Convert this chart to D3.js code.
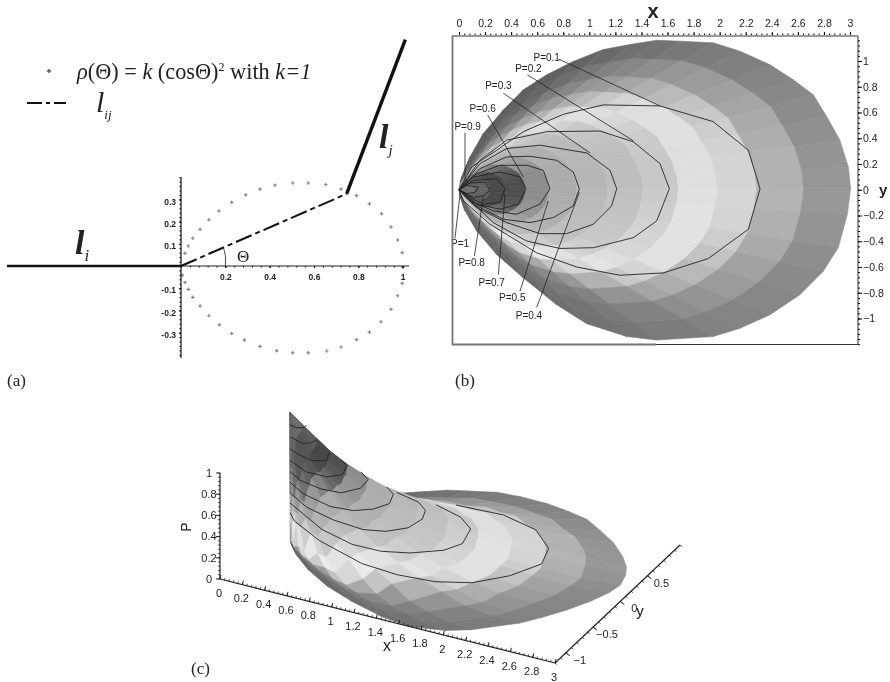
<!DOCTYPE html>
<html>
<head>
<meta charset="utf-8">
<script src="https://cdn.jsdelivr.net/npm/d3@7"></script>
<style>
  body { margin: 0; background: #fff; }
  svg { display: block; filter: blur(0.5px); }
  text { font-family: "Liberation Sans", sans-serif; fill: #222; }
  .serif { font-family: "Liberation Serif", serif; }
  .mesh { filter: blur(0.4px); }
</style>
</head>
<body>
<script>
// panel (a): crosses of the polar curve
const polarX = [.018,.033,.053,.086,.126,.171,.229,.292,.356,.424,.504,.574,.653,.722,.792,.85,.905,.947,.977,.998,1.0,
                .006,.018,.033,.053,.086,.126,.173,.229,.286,.356,.432,.504,.574,.657,.722,.792,.85,.902,.947,.977,.998];
const polarY = [.057,.09,.125,.165,.208,.248,.287,.32,.346,.364,.374,.374,.367,.347,.317,.28,.235,.176,.117,.06,-.006,
                -.041,-.074,-.105,-.141,-.18,-.224,-.265,-.304,-.334,-.362,-.382,-.391,-.391,-.383,-.365,-.332,-.298,-.251,-.195,-.134,-.078];
const aXTicks = [.2,.4,.6,.8,1];
const aXLabels = ['0.2','0.4','0.6','0.8','1'];
const aYTicks = [.3,.2,.1,-.1,-.2,-.3];
const aYLabels = ['0.3','0.2','0.1','-0.1','-0.2','-0.3'];

// panels (b) and (c): the surface outline, one point per mesh ray
const outlineX = [.02,.084,.187,.34,.494,.673,.877,1.107,1.312,1.517,1.696,1.951,2.156,2.386,2.565,2.719,2.821,2.923,2.987,3.005,
                  2.98,2.91,2.795,2.616,2.386,2.156,1.951,1.517,1.286,.98,.749,.494,.289,.136,.046,.015];
const outlineY = [.1,.255,.4375,.62,.776,.893,.997,1.089,1.128,1.161,1.154,1.141,1.076,.971,.854,.737,.568,.385,.177,.008,
                  -.19,-.45,-.633,-.815,-.971,-1.076,-1.14,-1.167,-1.14,-1.04,-.893,-.685,-.503,-.32,-.164,-.07];
const ringFractions = [0,.04,.08,.12,.17,.23,.3,.38,.47,.56,.66,.76,.88,1];

// grey level of each facet: one row per gap between rays, one column per ring
const facetGrey = [
  [130,165,170,150,125,110,100,95,92,92,92,92,92],
  [125,160,172,155,130,112,103,98,94,92,92,92,92],
  [115,150,172,178,150,128,112,103,97,94,92,92,92],
  [105,140,170,190,178,155,135,120,110,103,98,95,92],
  [102,125,155,178,195,195,165,142,125,112,104,98,94],
  [100,115,145,170,190,208,190,160,140,122,110,102,96],
  [100,100,125,160,178,198,218,195,165,142,125,110,100],
  [100,92,112,150,176,192,215,212,180,155,135,120,106],
  [105,88,98,140,172,185,202,222,205,175,150,130,112],
  [105,85,92,130,170,182,198,222,215,185,155,135,115],
  [108,85,82,118,165,178,192,210,225,200,165,142,120],
  [110,86,76,108,160,176,188,202,222,212,175,150,124],
  [110,88,74,100,155,175,186,198,215,222,185,155,128],
  [110,90,72,92,150,175,185,195,208,224,195,160,132],
  [110,92,72,86,146,174,184,192,204,224,200,165,136],
  [110,94,72,82,142,172,183,190,202,224,206,170,140],
  [110,95,72,80,140,172,182,190,200,222,210,174,144],
  [110,95,72,78,140,172,182,190,200,222,212,178,148],
  [110,95,72,78,140,172,182,190,200,222,212,178,150],
  [110,95,72,78,140,172,184,192,202,224,214,180,152],
  [110,95,72,80,142,173,186,194,206,226,212,176,148],
  [110,94,72,84,146,174,188,196,210,226,205,170,142],
  [110,92,72,88,148,175,188,198,212,226,195,162,138],
  [110,90,72,95,150,175,190,200,215,225,185,155,135],
  [110,88,75,105,158,178,192,206,222,212,174,148,132],
  [110,86,78,115,165,180,194,212,228,200,165,142,130],
  [108,85,88,132,172,186,204,226,214,178,148,130,124],
  [105,85,98,150,176,192,214,234,196,152,130,122,118],
  [102,88,112,160,180,200,228,215,168,136,122,116,114],
  [100,90,125,168,184,212,235,195,145,124,116,112,110],
  [100,110,150,178,205,232,205,155,128,116,110,108,106],
  [102,130,165,192,225,215,170,130,116,108,104,102,102],
  [110,150,190,230,205,155,125,110,104,102,100,100,100],
  [125,175,205,185,135,112,104,100,100,100,100,100,100],
  [135,185,195,150,118,106,100,100,100,100,100,100,100]
];

// surface height P at each ring, for groups of rays
const ringHeights = [
  [1,.9,.8,.7,.6,.5,.4,.32,.25,.19,.14,.1,.05,0],
  [1,.89,.78,.68,.58,.48,.38,.3,.22,.17,.125,.08,.03,0],
  [1,.88,.76,.65,.54,.44,.35,.27,.2,.15,.1,.06,.02,0],
  [1,.86,.72,.62,.51,.4,.3,.22,.16,.11,.07,.03,.01,0],
  [1,.84,.67,.57,.45,.33,.24,.16,.1,.05,.02,.01,0,0],
  [1,.8,.6,.48,.35,.24,.15,.09,.03,.01,0,0,0,0],
  [1,.68,.48,.33,.2,.11,.03,.01,0,0,0,0,0,0],
  [1,.55,.3,.17,.07,.01,0,0,0,0,0,0,0,0],
  [1,.3,.12,.04,0,0,0,0,0,0,0,0,0,0]
];
const rayHeightGroup = [8,8,8,7,7,6,6,5,5,4,4,3,3,2,2,1,1,0,0,0,0,1,1,2,2,3,3,4,5,6,6,7,7,8,8,8];

// contour lines of P, each closed back to the origin
const contourLevels = [.1,.2,.3,.4,.5,.6,.7,.8,.9];
const contourPoints = [
  [[.097,.177],[.289,.307],[.494,.451],[.8,.586],[1.107,.659],[1.542,.651],[1.951,.529],[2.22,.307],[2.31,.008],[2.22,-.307],[1.913,-.534],[1.568,-.646],[1.235,-.664],[.903,-.6],[.596,-.49],[.238,-.268],[.033,-.086]],
  [[.161,.229],[.366,.385],[.673,.451],[1.082,.456],[1.338,.372],[1.542,.203],[1.614,.008],[1.517,-.242],[1.338,-.372],[1.031,-.45],[.775,-.456],[.519,-.398],[.263,-.255]],
  [[.161,.203],[.366,.32],[.621,.346],[.98,.286],[1.159,.151],[1.21,.008],[1.171,-.125],[1.031,-.268],[.826,-.341],[.621,-.341],[.366,-.255],[.136,-.138]],
  [[.161,.164],[.366,.255],[.545,.26],[.749,.229],[.877,.138],[.923,.008],[.877,-.125],[.724,-.216],[.545,-.255],[.34,-.229],[.11,-.112]],
  [[.136,.125],[.315,.19],[.519,.19],[.647,.151],[.698,.008],[.621,-.112],[.442,-.19],[.263,-.164],[.084,-.086]],
  [[.11,.099],[.315,.138],[.468,.099],[.514,.008],[.455,-.112],[.315,-.151],[.136,-.112]],
  [[.11,.073],[.289,.086],[.353,.008],[.315,-.099],[.187,-.112],[.084,-.06]],
  [[.084,.052],[.2,.06],[.238,-.005],[.187,-.047],[.11,-.06]],
  [[.06,.034],[.148,.02],[.123,-.02],[.06,-.03]]
];
// in panel (c) the far part of each contour is hidden, it shows from this point on
const contourFrontStart = [5,4,3,4,3,2,2,2,1];

// labels of panel (b): text, label centre, leader start, leader end
const pLabelText = ['P=0.1','P=0.2','P=0.3','P=0.6','P=0.9','P=1','P=0.8','P=0.7','P=0.5','P=0.4'];
const pLabelAt = [[.673,1.031],[.532,.94],[.302,.807],[.182,.633],[.066,.495],[.008,-.42],[.097,-.568],[.251,-.724],[.409,-.836],[.537,-.977]];
const pLeaderFrom = [[.762,1.016],[.524,.893],[.34,.75],[.22,.581],[.046,.443],[-.031,-.378],[.118,-.516],[.302,-.659],[.468,-.789],[.596,-.914]];
const pLeaderTo = [[1.542,.651],[1.338,.38],[1.005,.286],[.494,.099],[.046,.073],[.008,-.034],[.187,-.06],[.353,-.034],[.685,-.086],[.923,-.02]];

const xTicks = [0,.2,.4,.6,.8,1,1.2,1.4,1.6,1.8,2,2.2,2.4,2.6,2.8,3];
const xLabels = ['0','0.2','0.4','0.6','0.8','1','1.2','1.4','1.6','1.8','2','2.2','2.4','2.6','2.8','3'];
const yTicks = [1,.8,.6,.4,.2,0,-.2,-.4,-.6,-.8,-1];
const yLabels = ['1','0.8','0.6','0.4','0.2','0','\u22120.2','\u22120.4','\u22120.6','\u22120.8','\u22121'];
const pTicks = [0,.2,.4,.6,.8,1];
const pLabels = ['0','0.2','0.4','0.6','0.8','1'];
const cYTicks = [-1,-.5,0,.5];
const cYLabels = ['\u22121','\u22120.5','0','0.5'];

const svg = d3.select('body').append('svg').attr('width', 890).attr('height', 682);
svg.append('rect').attr('width', 890).attr('height', 682).attr('fill', '#fff');

function minorTicks(from, to, step) {
    let n = Math.round((to - from) / step);
    return d3.range(n + 1).map(i => from + i * step);
}

function greyOf(v) {
    return d3.rgb(v, v, v).formatHex();
}

// one record per surface facet, four corners as [x, y, P]
function buildFacets() {
    let facets = [];
    facetGrey.forEach((row, i) => {
        row.forEach((grey, j) => {
            let corners = [[i, j], [i + 1, j], [i + 1, j + 1], [i, j + 1]].map(c => {
                let f = ringFractions[c[1]];
                let p = ringHeights[rayHeightGroup[c[0]]][c[1]];
                return [outlineX[c[0]] * f, outlineY[c[0]] * f, p];
            });
            facets.push({grey: grey, corners: corners});
        });
    });
    return facets;
}
const facets = buildFacets();

function drawPanelA() {
    let x = d3.scaleLinear().domain([0, 1]).range([181, 402.7]);
    let y = d3.scaleLinear().domain([-.4, .4]).range([354.8, 177.2]);
    let g = svg.append('g');

    // crosses
    g.selectAll('path.cross').data(polarX).join('path')
        .attr('class', 'cross')
        .attr('d', d3.symbol(d3.symbolCross, 7))
        .attr('transform', (d, i) => `translate(${x(d)},${y(polarY[i])})`)
        .attr('fill', '#888');

    // axes
    let xAxis = d3.axisBottom(x).tickValues(aXTicks).tickSize(2).tickFormat((d, i) => aXLabels[i]);
    let ax = g.append('g').attr('transform', `translate(0,${y(0)})`).call(xAxis);
    ax.select('.domain').attr('d', `M181,0H409`).attr('stroke', '#222').attr('stroke-width', 1.2);
    ax.selectAll('text').attr('font-size', 8.5).attr('font-weight', 'bold').attr('fill', '#444').attr('dy', 9);
    let xMinor = d3.axisBottom(x).tickValues(minorTicks(0, 1, .04)).tickSize(1.5).tickFormat('');
    g.append('g').attr('transform', `translate(0,${y(0)})`).call(xMinor).select('.domain').remove();

    let yAxis = d3.axisLeft(y).tickValues(aYTicks).tickSize(2).tickFormat((d, i) => aYLabels[i]);
    let ay = g.append('g').attr('transform', `translate(${x(0)},0)`).call(yAxis);
    ay.select('.domain').attr('d', 'M0,177.2V358').attr('stroke', '#222').attr('stroke-width', 1.3);
    ay.selectAll('text').attr('font-size', 8.5).attr('font-weight', 'bold').attr('fill', '#444').attr('dy', '.55em');
    let yMinor = d3.axisLeft(y).tickValues(minorTicks(-.4, .4, .02)).tickSize(1.5).tickFormat('');
    g.append('g').attr('transform', `translate(${x(0)},0)`).call(yMinor).select('.domain').remove();

    // the segments
    g.append('line').attr('x1', 7).attr('x2', x(0)).attr('y1', y(0)).attr('y2', y(0))
        .attr('stroke', '#111').attr('stroke-width', 2.6);
    g.append('line').attr('x1', x(.747)).attr('y1', y(.325)).attr('x2', x(1.012)).attr('y2', y(1.02))
        .attr('stroke', '#111').attr('stroke-width', 3.4);
    g.append('line').attr('x1', x(0)).attr('y1', y(0)).attr('x2', x(.747)).attr('y2', y(.325))
        .attr('stroke', '#111').attr('stroke-width', 2).attr('stroke-dasharray', '17,4,5,4');

    // angle arc
    let arc = d3.path();
    arc.moveTo(x(.2), y(0));
    arc.quadraticCurveTo(x(.205), y(.05), x(.19), y(.085));
    g.append('path').attr('d', arc.toString()).attr('fill', 'none').attr('stroke', '#333').attr('stroke-width', .9);
    g.append('text').attr('class', 'serif').attr('x', x(.28)).attr('y', y(.045)).attr('text-anchor', 'middle')
        .attr('font-size', 17).attr('dy', '.33em').text('\u0398');

    // legend
    g.append('path').attr('d', d3.symbol(d3.symbolCross, 9))
        .attr('transform', 'translate(49,71)').attr('fill', '#555');
    g.append('line').attr('x1', 27).attr('x2', 66).attr('y1', 103).attr('y2', 103)
        .attr('stroke', '#111').attr('stroke-width', 2).attr('stroke-dasharray', '15,4,4,4');

    let formula = g.append('text').attr('class', 'serif').attr('x', 77).attr('y', 79).attr('font-size', 22.3).attr('fill', '#111');
    formula.append('tspan').attr('font-style', 'italic').text('\u03C1');
    formula.append('tspan').text('(\u0398) = ');
    formula.append('tspan').attr('font-style', 'italic').text('k');
    formula.append('tspan').text(' (cos\u0398)');
    formula.append('tspan').attr('font-size', 12).attr('dy', -8).text('2');
    formula.append('tspan').attr('dy', 8).text(' with ');
    formula.append('tspan').attr('font-style', 'italic').text('k=1');

    subscripted(g, 96, 112, 'l', 'ij', 30, 13, false);
    subscripted(g, 75, 254, 'l', 'i', 34, 17, true);
    subscripted(g, 379, 148, 'l', 'j', 34, 15, true);

    g.append('text').attr('class', 'serif').attr('x', 7).attr('y', 386).attr('font-size', 17).text('(a)');
}

function subscripted(g, x, y, main, sub, size, subSize, bold) {
    let t = g.append('text').attr('class', 'serif').attr('x', x).attr('y', y)
        .attr('font-style', 'italic').attr('font-size', size).attr('fill', '#111');
    let m = t.append('tspan').text(main);
    if (bold) m.attr('font-weight', 'bold');
    t.append('tspan').attr('font-size', subSize).attr('dy', 7).text(sub);
}

function drawPanelB() {
    let x = d3.scaleLinear().domain([0, 3]).range([459, 850]);
    let y = d3.scaleLinear().domain([-1, 1]).range([318.5, 61]);
    let g = svg.append('g');
    let line = d3.line().x(d => x(d[0])).y(d => y(d[1]));

    g.append('g').attr('class', 'mesh').selectAll('path').data(facets).join('path')
        .attr('d', d => line(d.corners) + 'Z')
        .attr('fill', d => greyOf(d.grey))
        .attr('stroke', d => greyOf(d.grey))
        .attr('stroke-width', .6);

    g.selectAll('path.contour').data(contourPoints).join('path')
        .attr('class', 'contour')
        .attr('d', d => line([[0, 0]].concat(d, [[0, 0]])))
        .attr('fill', 'none').attr('stroke', '#222').attr('stroke-width', .9);

    g.selectAll('line.leader').data(pLeaderFrom).join('line')
        .attr('class', 'leader')
        .attr('x1', d => x(d[0])).attr('y1', d => y(d[1]))
        .attr('x2', (d, i) => x(pLeaderTo[i][0])).attr('y2', (d, i) => y(pLeaderTo[i][1]))
        .attr('stroke', '#222').attr('stroke-width', .8);

    g.selectAll('text.plabel').data(pLabelText).join('text')
        .attr('class', 'plabel')
        .attr('x', (d, i) => x(pLabelAt[i][0])).attr('y', (d, i) => y(pLabelAt[i][1]))
        .attr('text-anchor', 'middle').attr('dy', '.35em')
        .attr('font-size', 10).text(d => d);

    // frame, grey on the left and the lower left as in the picture
    g.append('path').attr('d', 'M654,344.5H858V36H452').attr('fill', 'none').attr('stroke', '#333').attr('stroke-width', 1);
    g.append('path').attr('d', 'M452.5,36V344.5H656').attr('fill', 'none').attr('stroke', '#777').attr('stroke-width', 1.8);

    // top axis
    let top = g.append('g').attr('transform', 'translate(0,35)')
        .call(d3.axisTop(x).tickValues(xTicks).tickSize(3).tickFormat((d, i) => xLabels[i]));
    top.select('.domain').remove();
    top.selectAll('text').attr('font-size', 10.5).attr('dy', -2);
    g.append('g').attr('transform', 'translate(0,35)')
        .call(d3.axisTop(x).tickValues(minorTicks(0, 3, .04)).tickSize(1.5).tickFormat(''))
        .select('.domain').remove();
    g.append('text').attr('x', 653).attr('y', 18).attr('text-anchor', 'middle')
        .attr('font-size', 20).attr('font-weight', 'bold').text('x');

    // right axis
    let right = g.append('g').attr('transform', 'translate(858,0)')
        .call(d3.axisRight(y).tickValues(yTicks).tickSize(4).tickFormat((d, i) => yLabels[i]));
    right.select('.domain').remove();
    right.selectAll('text').attr('font-size', 10.5).attr('x', 5);
    g.append('g').attr('transform', 'translate(858,0)')
        .call(d3.axisRight(y).tickValues(minorTicks(-1.2, 1.16, .04)).tickSize(2).tickFormat(''))
        .select('.domain').remove();
    g.append('text').attr('x', 879).attr('y', 195).attr('font-size', 15).attr('font-weight', 'bold').text('y');

    g.append('text').attr('class', 'serif').attr('x', 455).attr('y', 386).attr('font-size', 17).text('(b)');
}

// axis along an oblique screen line: a scale for each screen direction
function obliqueAxis(g, ticks, labels, minor, domain, x0, y0, x1, y1, tickDx, tickDy, labelAt) {
    let sx = d3.scaleLinear().domain(domain).range([x0, x1]);
    let sy = d3.scaleLinear().domain(domain).range([y0, y1]);
    g.append('line').attr('x1', x0).attr('y1', y0).attr('x2', x1).attr('y2', y1)
        .attr('stroke', '#222').attr('stroke-width', 1.2);
    g.append('g').selectAll('line').data(minor).join('line')
        .attr('x1', d => sx(d)).attr('y1', d => sy(d))
        .attr('x2', d => sx(d) + tickDx * .5).attr('y2', d => sy(d) + tickDy * .5)
        .attr('stroke', '#222').attr('stroke-width', .8);
    g.append('g').selectAll('line').data(ticks).join('line')
        .attr('x1', d => sx(d)).attr('y1', d => sy(d))
        .attr('x2', d => sx(d) + tickDx).attr('y2', d => sy(d) + tickDy)
        .attr('stroke', '#222').attr('stroke-width', 1);
    g.append('g').selectAll('text').data(ticks).join('text')
        .attr('x', d => sx(d) + labelAt[0]).attr('y', d => sy(d) + labelAt[1])
        .attr('text-anchor', 'middle').attr('dy', '.35em').attr('font-size', 11).attr('fill', '#444')
        .text((d, i) => labels[i]);
}

function drawPanelC() {
    let g = svg.append('g');
    let xToRight = d3.scaleLinear().domain([0, 3]).range([290, 626]);
    let xToDown = d3.scaleLinear().domain([0, 3]).range([540, 568]);
    let yToRight = d3.scaleLinear().domain([0, 1]).range([0, -10]);
    // near and far halves of the surface are foreshortened differently
    let yToDown = d3.scaleLinear().domain([-1, 0, 1]).range([92, 0, -46]);
    let skewFront = 18, skewBack = -6;
    let pToDown = d3.scaleLinear().domain([0, 1]).range([0, -128]);
    // the low contours sit a little higher close to the spike
    let nearLift = d3.scaleLinear().domain([0, 1.6]).range([18, 0]).clamp(true);

    let px = d => xToRight(d[0]) + yToRight(d[1]);
    let py = d => {
        let skew = d[1] < 0 ? skewFront : skewBack;
        let lift = nearLift(d[0]) * (1 - d[2]) * (1 - d[2]) * Math.min(d[2] / .05, 1);
        return xToDown(d[0]) + yToDown(d[1]) + skew * d[0] * d[1] + pToDown(d[2]) - lift;
    };
    let line = d3.line().x(px).y(py);

    // far facets first so the near ones cover them
    let ordered = facets.slice().sort((a, b) => d3.mean(b.corners, c => c[1]) - d3.mean(a.corners, c => c[1]));
    g.append('g').attr('class', 'mesh').selectAll('path').data(ordered).join('path')
        .attr('d', d => line(d.corners) + 'Z')
        .attr('fill', d => greyOf(d.grey))
        .attr('stroke', d => greyOf(d.grey))
        .attr('stroke-width', .6);

    g.selectAll('path.contour').data(contourPoints).join('path')
        .attr('class', 'contour')
        .attr('d', (d, i) => line(d.slice(contourFrontStart[i]).concat([[0, 0]]).map(p => [p[0], p[1], contourLevels[i]])))
        .attr('fill', 'none').attr('stroke', '#222').attr('stroke-width', .9);

    // P axis
    obliqueAxis(g, pTicks, pLabels, minorTicks(0, 1, .04), [0, 1], 220, 579, 220, 473, -4, 0, [-11, 0]);
    g.append('text').attr('transform', 'translate(191,527) rotate(-90)')
        .attr('text-anchor', 'middle').attr('font-size', 14).attr('fill', '#333').text('P');

    // x axis
    obliqueAxis(g, xTicks, xLabels, minorTicks(0, 3, .04), [0, 3], 220, 579, 555, 663, 1, -4, [-1, 14]);
    g.append('text').attr('x', 387).attr('y', 651).attr('text-anchor', 'middle')
        .attr('font-size', 16).attr('fill', '#222').text('x');

    // y axis
    obliqueAxis(g, cYTicks, cYLabels, minorTicks(-1.2, 1.1, .1), [-1.2, 1.1], 555, 663, 680, 545, 4, 3, [14, 7]);
    g.append('text').attr('x', 640).attr('y', 616).attr('text-anchor', 'middle')
        .attr('font-size', 15).attr('fill', '#222').text('y');

    g.append('text').attr('class', 'serif').attr('x', 191).attr('y', 674).attr('font-size', 17).text('(c)');
}

drawPanelA();
drawPanelB();
drawPanelC();
</script>
</body>
</html>
